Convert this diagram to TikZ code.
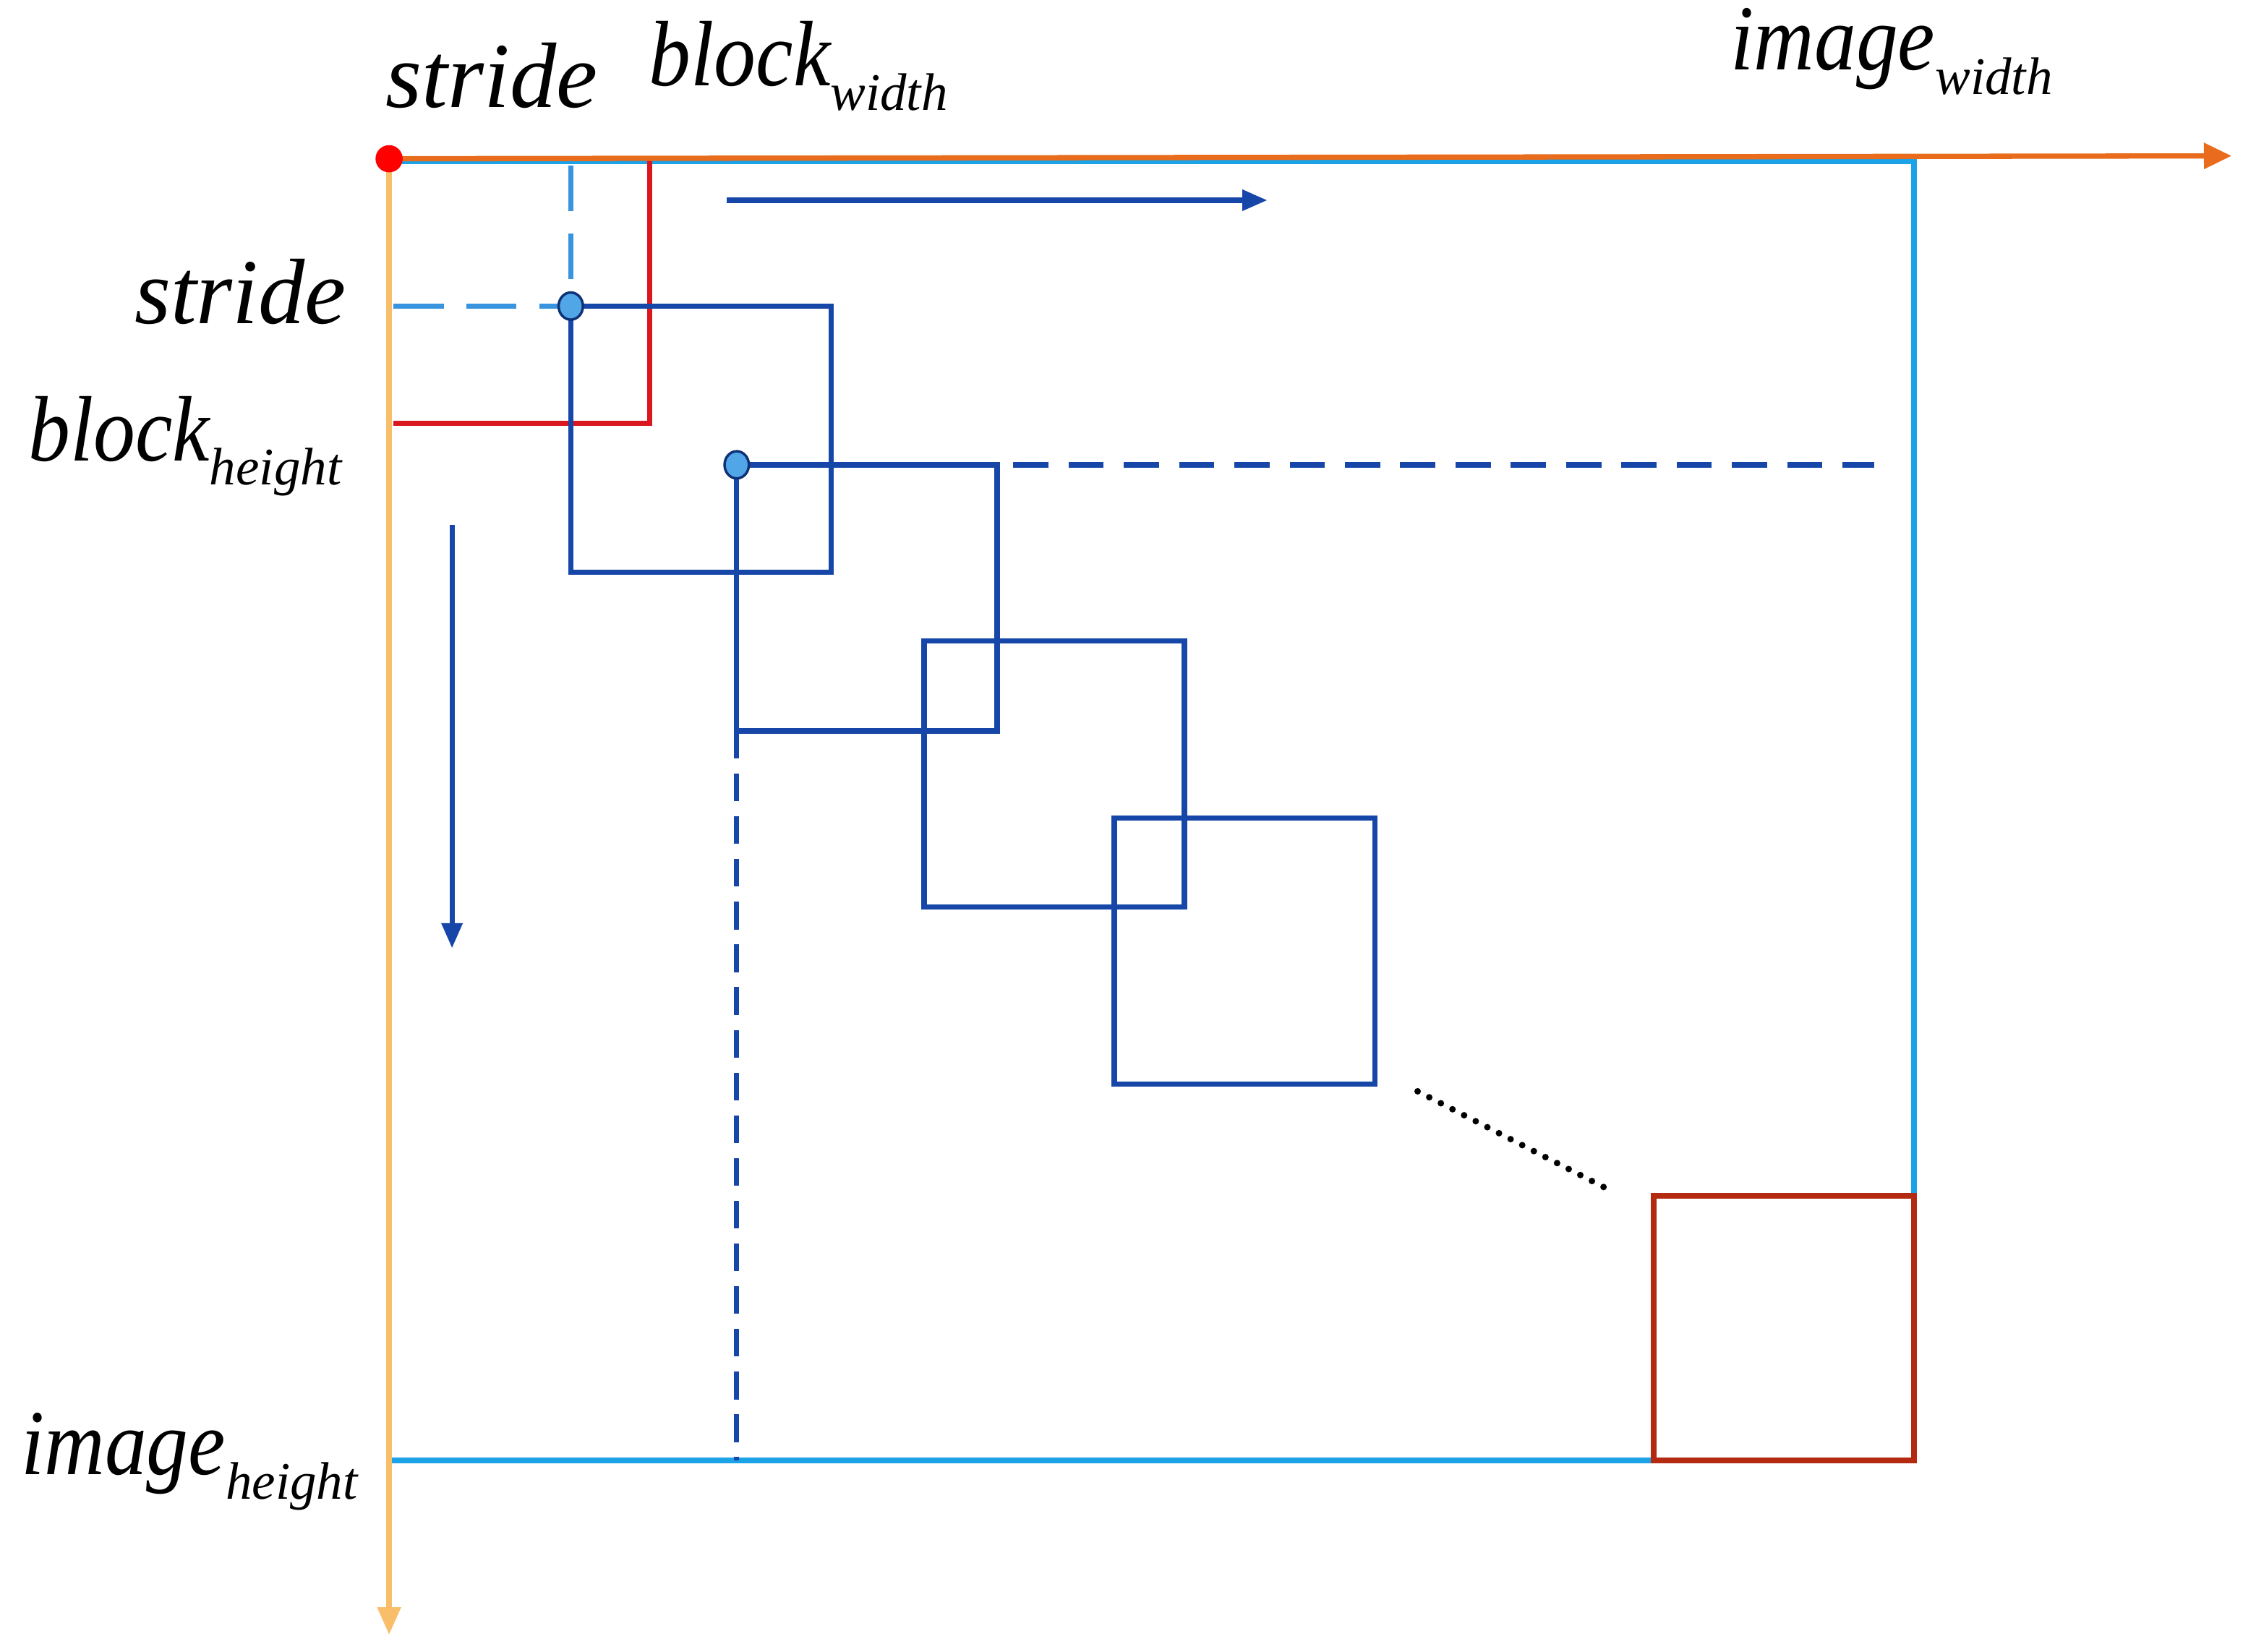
\documentclass[tikz,border=0pt]{standalone}
\usepackage{fontspec}
\setmainfont{Liberation Serif}
\usepackage{tikz}
\usetikzlibrary{arrows.meta}
\definecolor{axisorange}{RGB}{232,108,28}
\definecolor{axislight}{RGB}{249,190,106}
\definecolor{imgblue}{RGB}{28,162,230}
\definecolor{blockred}{RGB}{218,22,30}
\definecolor{winblue}{RGB}{22,70,168}
\definecolor{dotblue}{RGB}{80,166,230}
\definecolor{strideblue}{RGB}{56,148,222}
\definecolor{lastred}{RGB}{180,42,16}
\newcommand{\subtxt}[2]{\scalebox{0.9}[1]{#1}\raisebox{-0.26em}{\fontsize{21}{21}\selectfont #2}}

\begin{document}
\begin{tikzpicture}[x=0.02cm, y=-0.02cm, line width=2.1pt,
  lbl/.style={font=\fontsize{37}{37}\selectfont\itshape, inner sep=0pt},
  win/.style={draw=winblue},
  pin/.style={fill=dotblue, draw=winblue!70!black, line width=1pt}]
\useasboundingbox (0,0) rectangle (1568,1155);
% image frame
\draw[imgblue] (272,113) rectangle (1338,1021);
% first block
\coordinate (bw) at (454,112);
\coordinate (bh) at (275,296);
\draw[blockred] (bh) -- (bw |- bh) -- (bw);
% stride offsets
\coordinate (s1) at (399,214);
\draw[strideblue, dash pattern=on 20pt off 9pt] (275,214) -- (s1);
\draw[strideblue, dash pattern=on 18pt off 9pt] (399,116) -- (s1);
% sliding windows
\foreach \x/\y [count=\i] in {399/214, 515/325, 646/448, 779/572}{
  \draw[win] (\x,\y) rectangle ++(182,186);
}
\coordinate (s2) at (515,325);
\draw[winblue, dash pattern=on 14pt off 8pt] (s2) -- (1310,325);
\draw[winblue, dash pattern=on 11pt off 6pt] (515,511) -- (515,1021);
% last block
\draw[lastred, line width=2.3pt] (1156,836) rectangle (1338,1021);
\draw[black, line width=2.6pt, line cap=round, dash pattern=on 0pt off 5.2pt] (991,763) -- (1127,833);
% directions
\draw[winblue, -{Triangle[length=10pt, width=8pt]}] (508,140) -- (886,140);
\draw[winblue, -{Triangle[length=10pt, width=8pt]}] (316,367) -- (316,663);
% axes
\coordinate (O) at (272,111);
\draw[axislight, -{Triangle[length=11pt, width=9pt]}] (O) -- (272,1143);
\draw[axisorange, -{Triangle[length=11pt, width=10pt]}] (O) -- (1560,109);
\filldraw[pin] (s1) ellipse (8.5 and 9.5);
\filldraw[pin] (s2) ellipse (8.5 and 9.5);
\fill[red] (O) circle (9.5);
% labels
\node[lbl, anchor=base west] (strideTop) at (268,75) {stride};
\node[lbl, anchor=base west] (blockW) at (452,60) {\subtxt{block}{width}};
\node[lbl, anchor=base west] (imageW) at (1208,49) {\subtxt{image}{width}};
\node[lbl, anchor=base east] (strideLeft) at (244,226) {stride};
\node[lbl, anchor=base west] (blockH) at (18,322) {\subtxt{block}{height}};
\node[lbl, anchor=base west] (imageH) at (13,1031) {\subtxt{image}{height}};
\end{tikzpicture}
\end{document}
